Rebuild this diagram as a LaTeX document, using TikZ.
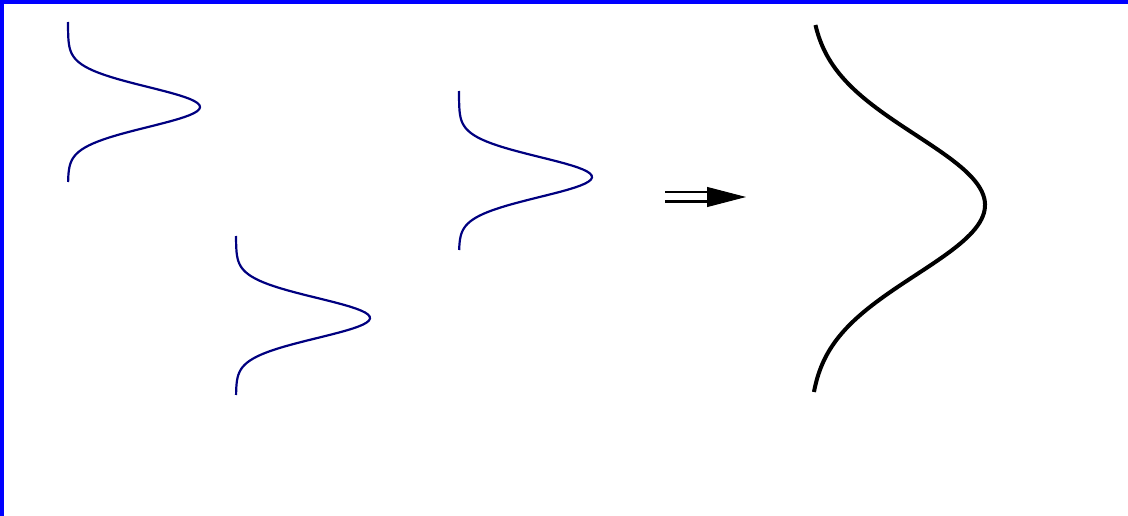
\documentclass[tikz,border=0pt]{standalone}
\usepackage{tikz}
\usetikzlibrary{arrows.meta}
\definecolor{navy}{RGB}{0,0,128}

\begin{document}
\begin{tikzpicture}[x=1pt,y=-1pt,
  >=Latex,
  smallbell/.style={draw=navy,line width=2.2pt},
  bigbell/.style={draw=black,line width=4pt},
  dblline/.style={draw,double,double distance=7pt,line width=2.2pt}]
\useasboundingbox (0,0) rectangle (1128,516);
\fill[white] (0,0) rectangle (1128,516);
\fill[blue] (0,0) rectangle (1128,4);
\fill[blue] (0,0) rectangle (4,516);
% three small components
\draw[smallbell] plot[domain=-85:75,samples=80]
  ({68+132*exp(-(\x/20)^2/2)},{107+\x});
\draw[smallbell] plot[domain=-82:77,samples=80]
  ({236+134*exp(-(\x/20)^2/2)},{318+\x});
\draw[smallbell] plot[domain=-86:73,samples=80]
  ({459+133*exp(-(\x/20)^2/2)},{177+\x});
% sum
\coordinate (arrtail) at (665,197);
\coordinate (arrmid) at (707,197);
\coordinate (arrhead) at (746,197);
\draw[dblline] (arrtail) -- (arrmid);
\draw[-{Triangle[length=39pt,width=20pt]},line width=1pt] (arrmid) -- (arrhead);
\draw[bigbell] plot[domain=-180:187,samples=120]
  ({809+176*exp(-(\x/70)^2/2)},{205+\x});
\end{tikzpicture}
\end{document}
